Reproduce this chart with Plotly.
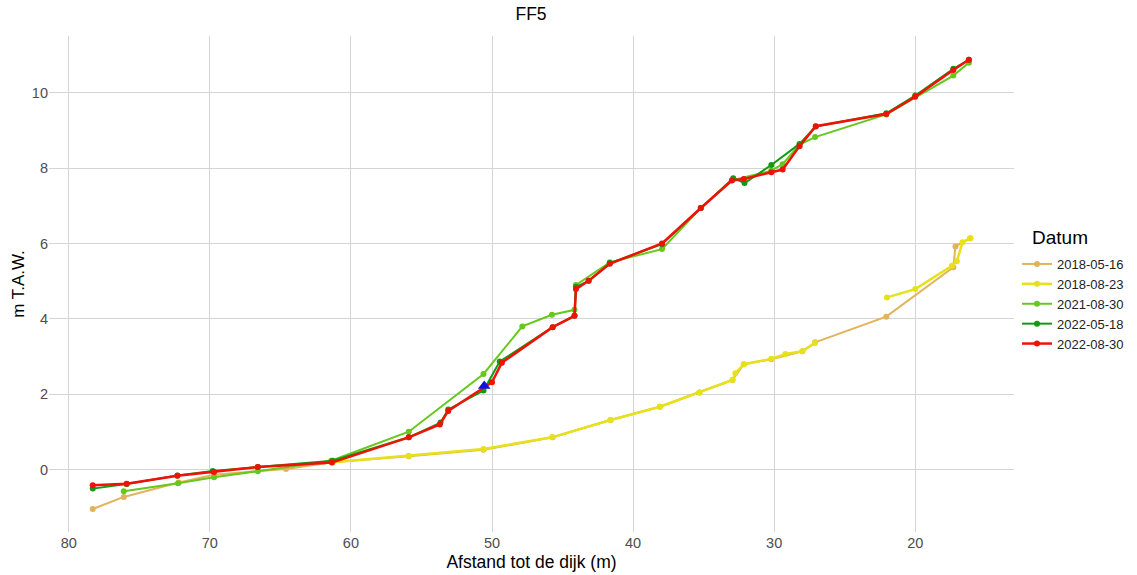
import plotly.graph_objects as go

# 2018-05-16
x_0516 = [78.3, 76.1, 72.2, 69.7, 64.6, 61.3, 55.9, 50.6, 45.7, 41.6, 38.1, 35.3, 32.95, 32.15, 30.2, 28.0, 27.1, 22.05, 17.3, 17.15, 16.1]
y_0516 = [-1.04, -0.72, -0.34, -0.13, 0.02, 0.2, 0.36, 0.53, 0.86, 1.32, 1.67, 2.05, 2.38, 2.8, 2.93, 3.14, 3.38, 4.06, 5.37, 5.92, 6.14]
# 2018-08-23
x_0823 = [61.3, 55.9, 50.6, 45.75, 41.6, 38.1, 35.3, 32.95, 32.75, 32.15, 30.2, 29.2, 28.0, 27.1, None, 22.0, 20.0, 17.4, 17.05, 16.65, 16.1]
y_0823 = [0.2, 0.37, 0.55, 0.86, 1.32, 1.67, 2.05, 2.38, 2.56, 2.8, 2.94, 3.07, 3.14, 3.36, None, 4.57, 4.79, 5.41, 5.53, 6.03, 6.14]
# 2021-08-30
x_2021 = [76.1, 72.25, 69.7, 66.6, 61.4, 55.9, 50.6, 47.85, 45.75, 44.15, 44.05, 41.65, 37.95, 35.2, 32.95, 30.2, 29.4, 28.2, 27.1, 22.05, 17.3, 16.2]
y_2021 = [-0.57, -0.36, -0.2, -0.04, 0.24, 1.01, 2.54, 3.8, 4.11, 4.24, 4.9, 5.5, 5.85, 6.94, 7.68, 7.93, 8.1, 8.62, 8.82, 9.42, 10.45, 10.79]
# 2022-05-18
x_0518 = [78.3, 75.9, 72.3, 69.8, 66.6, 61.3, 55.9, 53.65, 53.1, 50.6, 49.45, 45.7, 44.15, 44.05, 43.15, 41.65, 37.95, 35.2, 32.9, 32.1, 30.2, 28.2, 27.05, 22.05, 20.0, 17.3, 16.2]
y_0518 = [-0.5, -0.38, -0.15, -0.03, 0.07, 0.24, 0.86, 1.25, 1.6, 2.1, 2.87, 3.78, 4.08, 4.85, 5.01, 5.48, 5.98, 6.94, 7.73, 7.6, 8.08, 8.64, 9.1, 9.45, 9.92, 10.63, 10.87]
# 2022-08-30
x_0830 = [78.3, 75.9, 72.3, 69.7, 66.6, 61.35, 55.9, 53.7, 53.1, 50.0, 49.3, 45.7, 44.15, 44.05, 43.15, 41.65, 37.95, 35.2, 33.0, 32.15, 30.2, 29.4, 28.2, 27.05, 22.05, 20.0, 17.3, 16.2]
y_0830 = [-0.41, -0.37, -0.16, -0.06, 0.07, 0.19, 0.86, 1.2, 1.56, 2.32, 2.84, 3.78, 4.08, 4.79, 5.01, 5.46, 6.0, 6.94, 7.67, 7.71, 7.89, 7.96, 8.58, 9.11, 9.43, 9.89, 10.6, 10.87]
# marker point
x_mark = [50.55]
y_mark = [2.22]

series = [
    ("2018-05-16", x_0516, y_0516, "#E3B35A", 2),
    ("2018-08-23", x_0823, y_0823, "#E6E11B", 2.5),
    ("2021-08-30", x_2021, y_2021, "#66C81C", 2),
    ("2022-05-18", x_0518, y_0518, "#129B12", 2),
    ("2022-08-30", x_0830, y_0830, "#EE1208", 2.5),
]

fig = go.Figure()
for name, xs, ys, col, lw in series:
    fig.add_trace(go.Scatter(
        x=xs, y=ys, name=name, mode="lines+markers",
        line=dict(color=col, width=lw),
        marker=dict(color=col, size=6),
        connectgaps=False,
    ))
fig.add_trace(go.Scatter(
    x=x_mark, y=y_mark, mode="markers", showlegend=False,
    marker=dict(symbol="triangle-up", color="#1010E0", size=11),
))

W, H = 1137, 575
L, R, T, B = 49, 0, 36, 43
plot_w = W - L - R
plot_h = H - T - B
panel_right = 1014
dom_end = (panel_right - L) / plot_w
leg_x = (1017 - L) / plot_w

font = "Liberation Sans, Arial, sans-serif"
fig.update_layout(
    width=W, height=H,
    margin=dict(l=L, r=R, t=T, b=B, autoexpand=False),
    plot_bgcolor="white", paper_bgcolor="white",
    font=dict(family=font, color="#000000"),
    title=dict(text="FF5", xref="container", x=531 / W, xanchor="center",
               yref="container", y=1 - 14 / H, yanchor="middle",
               font=dict(size=17.5, color="#000000")),
    legend=dict(
        font=dict(size=13, color="#222222"),
        x=leg_x, xanchor="left", y=(H - B - 249) / plot_h, yanchor="top",
        bgcolor="rgba(0,0,0,0)", tracegroupgap=0, itemwidth=30,
    ),
    annotations=[dict(
        text="Datum", xref="paper", yref="paper",
        x=(1030 - L) / plot_w, y=(H - B - 237) / plot_h,
        xanchor="left", yanchor="middle", showarrow=False,
        font=dict(size=19, color="#000000"),
    )],
    xaxis=dict(
        domain=[0, dom_end],
        range=[81.4, 13.0], tickvals=[80, 70, 60, 50, 40, 30, 20],
        showgrid=True, gridcolor="#D4D4D4", gridwidth=1,
        zeroline=False, showline=False, ticks="",
        tickfont=dict(size=14.5, color="#4D4D4D"),
        title=dict(text="Afstand tot de dijk (m)", font=dict(size=17.5, color="#000000"), standoff=6),
    ),
    yaxis=dict(
        range=[-1.65, 11.5], tickvals=[0, 2, 4, 6, 8, 10],
        showgrid=True, gridcolor="#D4D4D4", gridwidth=1,
        zeroline=False, showline=False, ticks="",
        tickfont=dict(size=14.5, color="#4D4D4D"),
        title=dict(text="m T.A.W.", font=dict(size=17, color="#000000"), standoff=2),
    ),
)

fig.write_html("out.html")
